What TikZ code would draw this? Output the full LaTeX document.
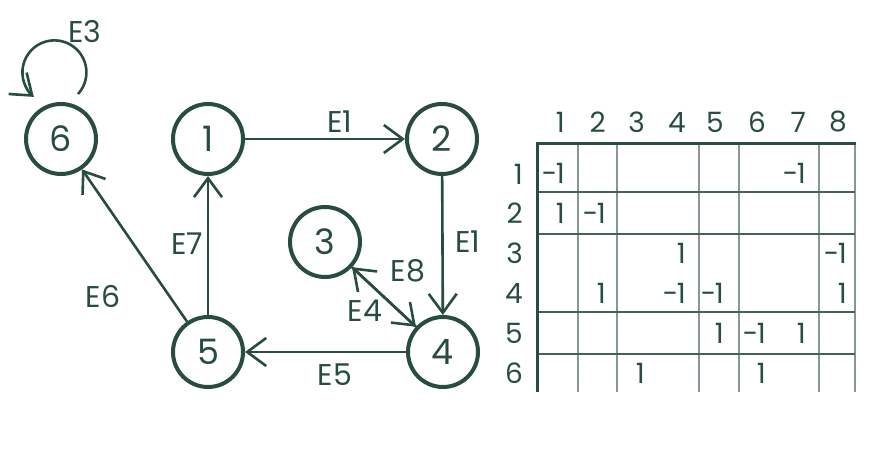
\documentclass[tikz,border=0pt]{standalone}
\usepackage{fontspec}
\setmainfont{Poppins}
\usetikzlibrary{arrows.meta}
\definecolor{ink}{RGB}{40,76,64}
\definecolor{gridv}{RGB}{135,152,146}
\definecolor{gridh}{RGB}{70,98,88}
\newcommand{\minusone}{-\kern-1.5pt 1}
\begin{document}
\begin{tikzpicture}[x=1pt,y=-1pt,
  vertex/.style={circle,draw=ink,line width=4pt,minimum size=70pt,inner sep=0pt,
    text=ink,font=\fontsize{35}{35}\selectfont},
  edge/.style={draw=ink,line width=2.6pt,
    -{Straight Barb[length=19pt,width=28pt,line width=2.6pt]}},
  elabel/.style={text=ink,font=\fontsize{30}{30}\selectfont,inner sep=0pt},
  mtext/.style={text=ink,font=\fontsize{28}{28}\selectfont,inner sep=0pt,anchor=east},
  thickrule/.style={draw=ink,line width=3pt},
  vrule/.style={draw=gridv,line width=1.3pt},
  hrule/.style={draw=gridh,line width=1.3pt}]
\path[use as bounding box] (0,0) rectangle (891,468);

% vertices
\node[vertex] (six)   at (61,139)  {6};
\node[vertex] (one)   at (208,139) {1};
\node[vertex] (two)   at (442,139) {2};
\node[vertex] (three) at (325,242) {3};
\node[vertex] (four)  at (443,352) {4};
\node[vertex] (five)  at (208,352) {5};

% edges
\draw[edge] (one) -- (two);
\draw[edge] (two) -- (four);
\draw[edge] (four) -- (five);
\draw[edge] (five) -- (one);
\draw[edge] (five) -- (six);
\draw[edge] (three) -- (four);
\draw[edge] (four) -- (three);
% self loop on vertex 6
\draw[edge] ([shift={(17,-45)}]six.center) arc[start angle=42.5,end angle=-230,radius=32];

% edge labels
\node[elabel] (lE3) at (85,32)  {E3};
\node[elabel] (lE1a) at (340,122) {E1};
\node[elabel] (lE1b) at (468,242) {E1};
\node[elabel] (lE7) at (187,244) {E7};
\node[elabel] (lE6) at (103,296) {E6};
\node[elabel] (lE8) at (408,271) {E8};
\node[elabel] (lE4) at (365,311) {E4};
\node[elabel] (lE5) at (335,375) {E5};

% incidence matrix grid
\foreach \x in {578,617,699,739,819,855}
  \draw[vrule] (\x,143) -- (\x,392);
\foreach \y in {192,234,312,354}
  \draw[hrule] (537,\y) -- (855,\y);
\draw[thickrule] (537,392) -- (537,143) -- (856,143);

% column headers
\foreach \c/\x in {1/565,2/606,3/645,4/686,5/724,6/766,7/806,8/847}
  \node[mtext] (col\c) at (\x,122) {\c};
% row headers
\foreach \r/\y in {1/174,2/213,3/253,4/293,5/333,6/373}
  \node[mtext] (row\r) at (523,\y) {\r};

% entries
\node[mtext] (m11) at (565,173) {\minusone};
\node[mtext] (m17) at (806,173) {\minusone};
\node[mtext] (m21) at (565,213) {1};
\node[mtext] (m22) at (606,213) {\minusone};
\node[mtext] (m34) at (686,253) {1};
\node[mtext] (m38) at (847,253) {\minusone};
\node[mtext] (m42) at (606,293) {1};
\node[mtext] (m44) at (686,293) {\minusone};
\node[mtext] (m45) at (724,293) {\minusone};
\node[mtext] (m48) at (847,293) {1};
\node[mtext] (m55) at (724,333) {1};
\node[mtext] (m56) at (766,333) {\minusone};
\node[mtext] (m57) at (806,333) {1};
\node[mtext] (m63) at (645,373) {1};
\node[mtext] (m66) at (766,373) {1};
\end{tikzpicture}
\end{document}
